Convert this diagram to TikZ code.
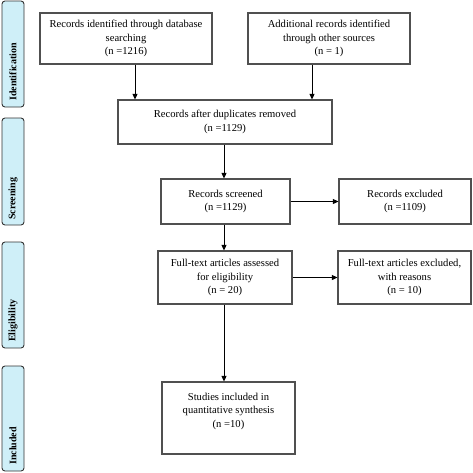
\documentclass[tikz,border=0pt]{standalone}
\usepackage{fontspec}
\setmainfont{Liberation Serif}
\usetikzlibrary{arrows.meta}
\definecolor{barfill}{HTML}{CFEFF8}
\definecolor{boxline}{HTML}{505050}
\tikzset{
  flowbox/.style={draw=boxline, line width=1.2pt, fill=white, align=center, inner sep=2pt,
    font=\fontsize{10.6}{13.5}\selectfont},
  sidebar/.style={draw=black!80, line width=0.9pt, fill=barfill, rounded corners=3pt},
  sidetext/.style={rotate=90, anchor=west, font=\fontsize{10}{12}\selectfont\bfseries, inner sep=0pt},
  arr/.style={-{Triangle[length=5.5pt,width=5pt]}, line width=1pt, black}
}
\begin{document}
\begin{tikzpicture}[x=1pt,y=-1pt]
\useasboundingbox (0,0) rectangle (473,472);
% side bars
\draw[sidebar] (2,1) rectangle (24,107);
\draw[sidebar] (2,118) rectangle (24,225);
\draw[sidebar] (2,242) rectangle (24,348);
\draw[sidebar] (2,366) rectangle (24,471);
\node[sidetext] (sIdent) at (13,101) {Identification};
\node[sidetext] (sScreen) at (13,220) {Screening};
\node[sidetext] (sElig) at (13,342) {Eligibility};
\node[sidetext] (sIncl) at (13,465) {Included};
% boxes
\node[flowbox, minimum width=172pt, minimum height=51pt] (b1) at (126,38.5)
  {Records identified through database\\searching\\(n =1216)};
\node[flowbox, minimum width=162pt, minimum height=51pt] (b2) at (329,38.5)
  {Additional records identified\\through other sources\\(n = 1)};
\node[flowbox, minimum width=214pt, minimum height=44pt] (b3) at (225,122)
  {Records after duplicates removed\\(n =1129)};
\node[flowbox, minimum width=129pt, minimum height=45pt] (b4) at (225.5,201.5)
  {Records screened\\(n =1129)};
\node[flowbox, minimum width=132pt, minimum height=45pt] (b5) at (405,201.5)
  {Records excluded\\(n =1109)};
\node[flowbox, minimum width=134pt, minimum height=53pt] (b6) at (225,277.5)
  {Full-text articles assessed\\for eligibility\\(n = 20)};
\node[flowbox, minimum width=133pt, minimum height=53pt] (b7) at (404.5,277.5)
  {Full-text articles excluded,\\with reasons\\(n = 10)};
\node[flowbox, minimum width=133pt, minimum height=72pt] (b8) at (228.5,418)
  {Studies included in\\quantitative synthesis\\(n =10)\\[2pt]\mbox{}};
% connector columns
\coordinate (c1) at (135,0);
\coordinate (c2) at (312,0);
\coordinate (c3) at (224,0);
% connectors
\draw[arr] (b1.south -| c1) -- (b3.north -| c1);
\draw[arr] (b2.south -| c2) -- (b3.north -| c2);
\draw[arr] (b3.south -| c3) -- (b4.north -| c3);
\draw[arr] (b4.south -| c3) -- (b6.north -| c3);
\draw[arr] (b6.south -| c3) -- (b8.north -| c3);
\draw[arr] (b4.east) -- (b5.west);
\draw[arr] (b6.east) -- (b7.west);
\end{tikzpicture}
\end{document}
